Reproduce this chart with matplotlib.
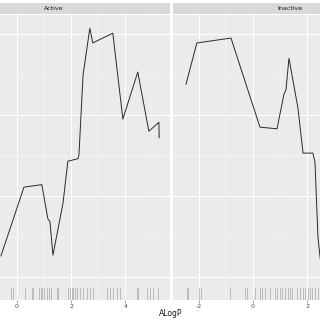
import matplotlib
matplotlib.use("Agg")
import matplotlib.pyplot as plt
from matplotlib.patches import Rectangle

panels = ["Active", "Inactive"]

active_x = [-0.59, 0.26, 0.92, 1.14, 1.22, 1.33, 1.70, 1.88, 2.25, 2.29, 2.44, 2.69, 2.80, 3.54, 3.91, 4.46, 4.87, 5.24, 5.25]
active_y = [0.026, 0.111, 0.114, 0.072, 0.068, 0.027, 0.091, 0.143, 0.146, 0.151, 0.249, 0.307, 0.289, 0.301, 0.195, 0.253, 0.180, 0.191, 0.172]

inactive_x = [-2.47, -2.07, -0.81, 0.26, 0.89, 1.14, 1.22, 1.33, 1.66, 1.85, 2.21, 2.29, 2.40, 2.51]
inactive_y = [0.238, 0.289, 0.295, 0.185, 0.183, 0.225, 0.231, 0.270, 0.209, 0.153, 0.153, 0.142, 0.049, 0.015]

active_rug = [-0.22, -0.15, 0.30, 0.55, 0.59, 0.81, 0.89, 0.92, 1.00, 1.11, 1.18, 1.25, 1.48, 1.51,
              1.88, 1.96, 2.03, 2.07, 2.14, 2.21, 2.32, 2.44, 2.58, 2.69, 2.80, 3.32, 3.43, 3.54,
              3.69, 3.80, 4.43, 4.46, 4.80, 4.91, 5.02, 5.20]
inactive_rug = [-2.44, -2.40, -1.99, -1.92, -0.85, -0.30, -0.22, 0.07, 0.26, 0.33, 0.44, 0.63,
                0.81, 0.89, 1.00, 1.07, 1.18, 1.29, 1.37, 1.44, 1.62, 1.73, 1.85, 1.92, 2.03,
                2.10, 2.18, 2.29, 2.40]

active_ticks = [0, 2, 4]
inactive_ticks = [-2, 0, 2]
x_major = [-2, 0, 2, 4]
x_minor = [-3, -1, 1, 3, 5]
y_major = [0.0, 0.1, 0.2, 0.3]
y_minor = [0.05, 0.15, 0.25]
xlabel = "ALogP"

W, H = 320, 320
fig = plt.figure(figsize=(3.2, 3.2), dpi=100)
fig.patch.set_facecolor("white")

xlim = (-2.95, 5.65)
ylim = (-0.0284, 0.3235)
bottom = 1 - 300 / H
height = (300 - 15) / H
positions = [(-63 / W, 233 / W), (173 / W, 233 / W)]

data = [(active_x, active_y, active_rug, active_ticks),
        (inactive_x, inactive_y, inactive_rug, inactive_ticks)]

for (left, width), name, (xs, ys, rug, ticks) in zip(positions, panels, data):
    ax = fig.add_axes([left, bottom, width, height])
    ax.set_facecolor("#EBEBEB")
    ax.set_xlim(*xlim)
    ax.set_ylim(*ylim)
    for v in x_minor:
        ax.axvline(v, color="white", lw=0.35, zorder=0)
    for v in x_major:
        ax.axvline(v, color="white", lw=0.75, zorder=0)
    for v in y_minor:
        ax.axhline(v, color="white", lw=0.35, zorder=0)
    for v in y_major:
        ax.axhline(v, color="white", lw=0.75, zorder=0)
    ax.plot(xs, ys, color="#2a2a2a", lw=0.7, zorder=3)
    for r in rug:
        ax.plot([r, r], [0.0, 0.042], transform=ax.get_xaxis_transform(),
                color="#a0a0a0", lw=0.45, zorder=2)
    for s in ax.spines.values():
        s.set_visible(False)
    ax.set_xticks(ticks)
    ax.set_xticklabels([str(t) for t in ticks])
    ax.tick_params(axis="x", length=2, width=0.4, color="#555555",
                   labelsize=4.5, labelcolor="#4D4D4D", pad=1)
    ax.set_yticks([])
    # strip
    fig.patches.append(Rectangle((left, 1 - 14 / H), width, 11 / H,
                                 transform=fig.transFigure, facecolor="#D9D9D9",
                                 edgecolor="none", zorder=0))
    fig.text(left + width / 2, 1 - 8.5 / H, name, ha="center", va="center",
             fontsize=4.5, color="#1A1A1A")

fig.text(171 / W, 1 - 313 / H, xlabel, ha="center", va="center", fontsize=5.5, color="#1A1A1A")

fig.savefig("out.png", dpi=100)
